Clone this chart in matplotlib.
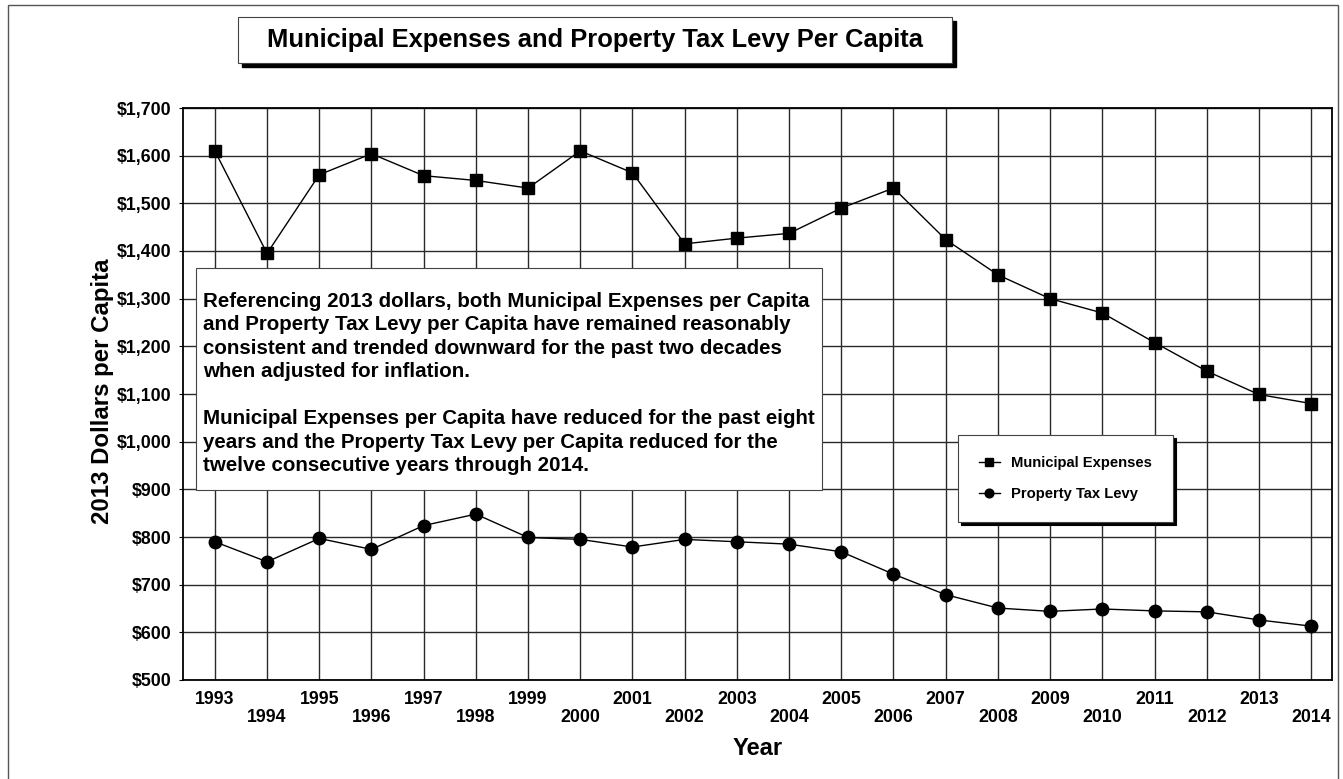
import matplotlib
matplotlib.use("Agg")
import matplotlib.pyplot as plt
from matplotlib.patches import Rectangle
from matplotlib.ticker import FuncFormatter

plt.rcParams['font.family'] = ['Liberation Sans', 'DejaVu Sans']
plt.rcParams['font.weight'] = 'bold'

years = list(range(1993, 2015))
municipal_expenses = [1610, 1395, 1560, 1604, 1558, 1548, 1532, 1610, 1564, 1415, 1427, 1437,
                      1490, 1532, 1424, 1350, 1300, 1270, 1208, 1148, 1099, 1080]
property_tax_levy = [790, 748, 797, 774, 824, 848, 799, 795, 779, 795, 790, 785,
                     769, 722, 679, 651, 644, 649, 645, 643, 626, 613]

note_text = ("Referencing 2013 dollars, both Municipal Expenses per Capita\n"
             "and Property Tax Levy per Capita have remained reasonably\n"
             "consistent and trended downward for the past two decades\n"
             "when adjusted for inflation.\n"
             "\n"
             "Municipal Expenses per Capita have reduced for the past eight\n"
             "years and the Property Tax Levy per Capita reduced for the\n"
             "twelve consecutive years through 2014.")

fig = plt.figure(figsize=(13.43, 7.79), dpi=100)
ax = fig.add_axes([183 / 1343, 99 / 779, 1149 / 1343, 572 / 779])

# outer border of the page
fig.patches.append(Rectangle((8 / 1343, -0.01), 1330 / 1343, 1.0036,
                             transform=fig.transFigure, fill=False,
                             edgecolor='#555555', linewidth=1.0))

ax.plot(years, municipal_expenses, color='black', linewidth=1.0, marker='s',
        markersize=9, label='Municipal Expenses', zorder=5)
ax.plot(years, property_tax_levy, color='black', linewidth=1.0, marker='o',
        markersize=9, label='Property Tax Levy', zorder=5)

ax.set_xlim(1992.39, 2014.4)
ax.set_ylim(500, 1700)
ax.set_yticks(range(500, 1701, 100))
ax.yaxis.set_major_formatter(FuncFormatter(lambda v, p: '${:,.0f}'.format(v)))
ax.set_xticks(years)
ax.set_xticklabels([str(y) if y % 2 == 1 else '\n' + str(y) for y in years],
                   linespacing=1.1)
ax.tick_params(axis='x', length=0, pad=8, labelsize=12.8)
ax.tick_params(axis='y', length=3, pad=5, labelsize=12.8)
for lab in ax.get_xticklabels() + ax.get_yticklabels():
    lab.set_fontweight('bold')

ax.grid(True, color='#2a2a2a', linewidth=1.0, zorder=0)
ax.set_axisbelow(True)
for s in ax.spines.values():
    s.set_linewidth(1.3)
    s.set_color('black')

ax.set_ylabel('2013 Dollars per Capita', fontsize=17.3, fontweight='bold')
ax.yaxis.set_label_coords(-0.060, 0.505)
ax.set_xlabel('Year', fontsize=17, fontweight='bold')
ax.xaxis.set_label_coords(0.5, -0.1)

# note box
ax.add_patch(Rectangle((0.0113, 0.332), 0.545, 0.388, transform=ax.transAxes,
                       facecolor='white', edgecolor='#444444', linewidth=0.8, zorder=3))
ax.text(0.0175, 0.679, note_text, transform=ax.transAxes, fontsize=14.8,
        fontweight='bold', va='top', ha='left', linespacing=1.3, zorder=4)

leg = ax.legend(loc='upper left', bbox_to_anchor=(0.6745, 0.428), borderaxespad=0,
                fontsize=10.6, frameon=True, fancybox=False, edgecolor='#444444',
                handlelength=1.4, markerscale=0.7, labelspacing=1.15,
                borderpad=1.42, handletextpad=0.8,
                shadow={'shade': 1.0, 'alpha': 1.0})
leg.get_frame().set_linewidth(0.8)
for t in leg.get_texts():
    t.set_fontweight('bold')

# title box with shadow
fig.patches.append(Rectangle((242 / 1343, 1 - 67 / 779), 714 / 1343, 46 / 779,
                             transform=fig.transFigure, facecolor='black',
                             edgecolor='black'))
fig.patches.append(Rectangle((238 / 1343, 1 - 63 / 779), 714 / 1343, 46 / 779,
                             transform=fig.transFigure, facecolor='white',
                             edgecolor='#444444', linewidth=0.8))
fig.text(595 / 1343, 1 - 40 / 779, 'Municipal Expenses and Property Tax Levy Per Capita',
         fontsize=18.4, fontweight='bold', ha='center', va='center')

fig.savefig('out.png', dpi=100)
